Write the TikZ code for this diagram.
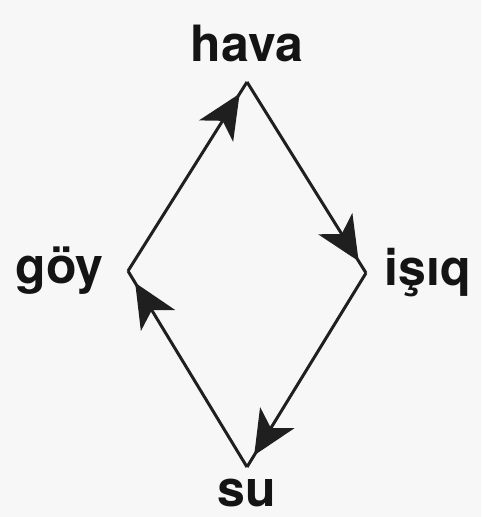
\documentclass[tikz,border=0pt]{standalone}
\usepackage{fontspec}
\setmainfont{TeX Gyre Heros}
\usetikzlibrary{positioning, arrows.meta, decorations.markings}

\begin{document}
\begin{tikzpicture}[
  x=0.5pt, y=-0.5pt,
  font=\fontsize{25}{30}\selectfont\bfseries,
  lbl/.style  ={inner sep=0pt, text=black!92},
  flow/.style ={draw=black!88, line width=1.5pt, postaction={decorate},
                decoration={markings,
                  mark=at position 0.94 with {\arrow{Stealth[length=22pt,width=20pt,inset=6pt]}}}}
]

% ---------- Paper ----------
\fill[black!3] (0,0) rectangle (481,517);
\useasboundingbox (0,0) rectangle (481,517);

% ---------- Corners of the rhombus ----------
\coordinate (top)    at (247,82);
\coordinate (right)  at (366,273);
\coordinate (bottom) at (247,467);
\coordinate (left)   at (128,271);

% ---------- Labels ----------
\node[lbl, above=10pt of top]   (hava) {hava};
\node[lbl, right=9pt of right]  (isiq) {işıq};
\node[lbl, below=6pt of bottom] (su)   {su};
\node[lbl, left=12pt of left]   (goy)  {göy};

% ---------- Arrows ----------
\path[flow] (left)   -- (top);
\path[flow] (top)    -- (right);
\path[flow] (right)  -- (bottom);
\path[flow] (bottom) -- (left);

\end{tikzpicture}
\end{document}
